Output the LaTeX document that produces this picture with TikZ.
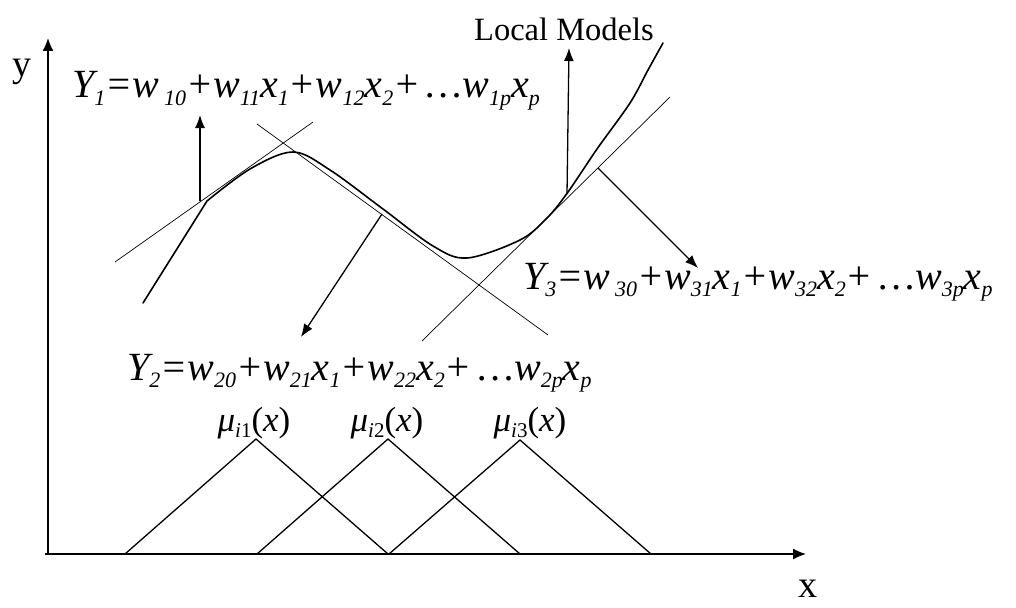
\documentclass[tikz,border=0pt]{standalone}
\usepackage{fontspec}
\setmainfont{Liberation Serif}
\usetikzlibrary{arrows.meta}
\newcommand\dn[1]{\raisebox{-7.5pt}{\fontsize{22}{22}\selectfont\itshape #1}}
\newcommand\mdn[1]{\raisebox{-6pt}{\fontsize{21}{21}\selectfont #1}}
\begin{document}
\begin{tikzpicture}[x=1pt,y=-1pt,
  axis/.style={line width=1.4pt,-{Latex[length=13pt,width=11pt]}},
  arr/.style={line width=1.3pt,-{Latex[length=13pt,width=10pt]}},
  tang/.style={line width=0.7pt},
  crv/.style={line width=1.6pt,line join=round,line cap=round},
  memb/.style={line width=1.3pt},
  eq/.style={anchor=base west,inner sep=0pt,font=\fontsize{40}{46}\selectfont\itshape},
  lbl/.style={anchor=base,inner sep=0pt,font=\fontsize{38}{42}\selectfont},
  mu/.style={anchor=base,inner sep=0pt,font=\fontsize{35}{38}\selectfont},
]
\useasboundingbox (0,0) rectangle (1016,607);
\fill[white] (0,0) rectangle (1016,607);

% axes
\coordinate (O) at (48,554);
\coordinate (Ox) at (45,554);
\coordinate (ytip) at (48,38);
\coordinate (xtip) at (806,554);
\draw[axis] (O) -- (ytip);
\draw[axis] (Ox) -- (xtip);
\node[lbl] (ylab) at (22,77) {y};
\node[lbl] (xlab) at (808,597) {x};

% tangent lines (local models)
\coordinate (t1a) at (115,262); \coordinate (t1b) at (313,122);
\coordinate (t2a) at (257,124); \coordinate (t2b) at (548,335);
\coordinate (t3a) at (422,341); \coordinate (t3b) at (670,97);
\draw[tang] (t1a) -- (t1b);
\draw[tang] (t2a) -- (t2b);
\draw[tang] (t3a) -- (t3b);

% nonlinear curve
\draw[crv] (143,303) -- (207,201) -- plot[smooth,tension=0.55] coordinates {(207,201) (250,169) (293,152) (330,170) (383,209) (433,246) (467,258) (520,240) (547,218) (568,192) (597,149) (630,103) (648,70) (663,43)};

% arrows
\coordinate (a1s) at (200,201); \coordinate (a1e) at (200,115);
\coordinate (a2s) at (382,214); \coordinate (a2e) at (301,337);
\coordinate (a3s) at (598,168); \coordinate (a3e) at (698,268);
\coordinate (a4s) at (567,194); \coordinate (a4e) at (569,48);
\draw[arr] (a1s) -- (a1e);
\draw[arr] (a2s) -- (a2e);
\draw[arr] (a3s) -- (a3e);
\draw[arr] (a4s) -- (a4e);

% membership functions
\draw[memb] (125,554) -- (256,439) -- (388,554);
\draw[memb] (257,554) -- (388,439) -- (520,554);
\draw[memb] (389,554) -- (520,440) -- (651,554);

% texts
\node[anchor=base west,inner sep=0pt,font=\fontsize{32.5}{36}\selectfont] (LM) at (474,41) {Local Models};
\node[eq] (Y1) at (72,98) {Y\dn{1}=w\kern5pt\dn{10}+w\dn{11}x\dn{1}+w\dn{12}x\dn{2}+\,…w\dn{1p}x\dn{p}};
\node[eq] (Y3) at (523,289) {Y\dn{3}=w\kern5pt\dn{30}+w\dn{31}x\dn{1}+w\dn{32}x\dn{2}+\,…w\dn{3p}x\dn{p}};
\node[eq] (Y2) at (127,380) {Y\dn{2}=w\dn{20}+w\dn{21}x\dn{1}+w\dn{22}x\dn{2}+\,…w\dn{2p}x\dn{p}};
\node[mu] (m1) at (254,431) {\textit{μ}\mdn{\textit{i}1}(\textit{x})};
\node[mu] (m2) at (387,431) {\textit{μ}\mdn{\textit{i}2}(\textit{x})};
\node[mu] (m3) at (530,431) {\textit{μ}\mdn{\textit{i}3}(\textit{x})};
\end{tikzpicture}
\end{document}
